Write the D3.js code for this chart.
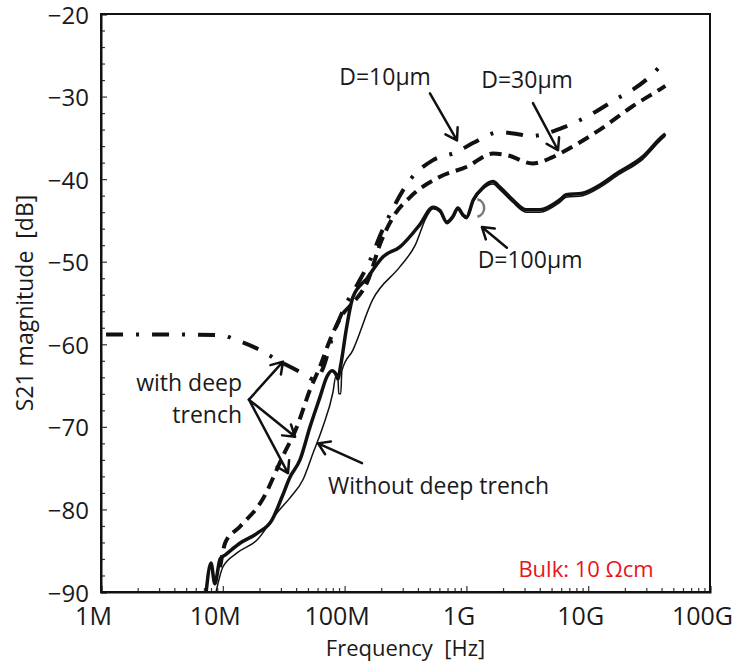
<!DOCTYPE html>
<html>
<head>
<meta charset="utf-8">
<script src="https://cdn.jsdelivr.net/npm/d3@7"></script>
<style>
  html, body { margin: 0; padding: 0; background: #fff; }
  svg { display: block; }
  text { font-family: "Open Sans", "Noto Sans", sans-serif; fill: #1a1a1a; }
</style>
</head>
<body>
<svg id="chart" width="735" height="664"></svg>
<script>
// ---- data: frequency (Hz) / S21 magnitude (dB) ----
const xTickValues = [1e6, 1e7, 1e8, 1e9, 1e10, 1e11];
const xTickLabels = ["1M", "10M", "100M", "1G", "10G", "100G"];
const yTickValues = [-90, -80, -70, -60, -50, -40, -30, -20];

// D=10 µm deep trench (dash-dot)
const d10Freq = [1.1e6, 3e6, 1e7, 1.2e7, 1.9e7, 2.8e7, 4.5e7, 5.7e7, 6.6e7, 8e7, 1e8, 1.3e8, 1.6e8, 2e8, 2.23e8, 3.44e8, 5.32e8, 8.37e8, 1.14e9, 1.89e9, 2.75e9, 3.3e9, 6.6e9, 1.1e10, 1.7e10, 2.3e10, 3.2e10, 4.3e10];
const d10Db   = [-58.8, -58.8, -58.9, -59.3, -60.5, -61.9, -63.5, -64.3, -63.0, -59.0, -55.5, -52.5, -50.0, -46.5, -45.0, -40.1, -37.7, -36.7, -35.6, -34.3, -34.6, -34.8, -33.6, -32.0, -30.3, -29.2, -27.6, -25.6];

// D=30 µm deep trench (dashed)
const d30Freq = [9.5e6, 1.05e7, 1.38e7, 2.1e7, 3.1e7, 4.06e7, 5.2e7, 6.28e7, 7.57e7, 9.7e7, 1.17e8, 1.53e8, 2e8, 2.5e8, 3.44e8, 6.07e8, 1.01e9, 1.65e9, 2.15e9, 3.5e9, 5e9, 6.2e9, 1.25e10, 2.3e10, 4e10, 4.3e10];
const d30Db   = [-87.0, -84.0, -82.1, -78.9, -73.6, -70.0, -65.5, -62.7, -59.5, -56.3, -55.0, -52.5, -47.5, -44.6, -42.2, -39.7, -38.5, -36.9, -37.1, -38.1, -37.4, -36.7, -34.0, -31.2, -29.0, -28.7];

// D=100 µm deep trench (thick solid)
const d100Freq = [7.3e6, 8e6, 8.6e6, 9.5e6, 1.05e7, 1.38e7, 1.91e7, 2.53e7, 3.06e7, 3.56e7, 4.3e7, 5.2e7, 6.28e7, 7.17e7, 7.86e7, 8.47e7, 8.8e7, 9.3e7, 1.04e8, 1.17e8, 1.53e8, 2.07e8, 2.85e8, 4.15e8, 5.32e8, 6.07e8, 6.9e8, 7.77e8, 8.5e8, 9.35e8, 1e9, 1.14e9, 1.37e9, 1.65e9, 1.89e9, 2.4e9, 3.1e9, 4e9, 5.85e9, 6.6e9, 9e9, 1.25e10, 1.72e10, 2.8e10, 4e10, 4.3e10];
const d100Db   = [-90.0, -86.5, -89.0, -86.0, -85.5, -84.1, -82.9, -81.3, -78.5, -76.1, -74.0, -70.0, -66.4, -63.9, -63.2, -63.6, -64.2, -62.5, -57.9, -54.3, -52.0, -49.4, -48.2, -45.5, -43.4, -43.8, -45.2, -44.5, -43.5, -44.3, -44.6, -42.5, -41.0, -40.3, -41.0, -42.5, -43.7, -43.7, -42.5, -41.9, -41.7, -40.7, -39.3, -37.3, -34.9, -34.5];

// Without deep trench (thin solid)
const noTrenchFreq = [8.8e6, 1e7, 1.3e7, 1.91e7, 2.79e7, 3.56e7, 4.55e7, 5.5e7, 6.63e7, 8e7, 8.5e7, 8.8e7, 8.95e7, 9.3e7, 9.5e7, 1.17e8, 1.7e8, 2.85e8, 3.8e8, 4.7e8, 5.32e8, 6.07e8, 6.9e8, 7.77e8, 8.5e8, 9.35e8, 1e9, 1.14e9, 1.37e9, 1.65e9, 1.89e9, 2.4e9, 3.1e9, 4e9, 5.85e9, 6.6e9, 9e9, 1.25e10, 1.72e10, 2.8e10, 4e10, 4.3e10];
const noTrenchDb   = [-90.0, -87.0, -85.3, -83.7, -80.4, -78.6, -76.4, -73.2, -70.0, -65.9, -63.8, -63.8, -66.0, -66.0, -63.2, -60.7, -54.6, -50.6, -48.0, -44.6, -43.6, -44.0, -45.4, -44.7, -43.7, -44.5, -44.8, -42.7, -41.2, -40.6, -41.3, -42.8, -44.0, -44.0, -42.8, -42.2, -42.0, -41.0, -39.6, -37.6, -35.2, -34.8];

const series = [
  { name: "D=10µm",  freq: d10Freq,      db: d10Db,      width: 4,   dash: "17,13,3,13" },
  { name: "D=30µm",  freq: d30Freq,      db: d30Db,      width: 4,   dash: "12,7" },
  { name: "without", freq: noTrenchFreq, db: noTrenchDb, width: 1.5, dash: null },
  { name: "D=100µm", freq: d100Freq,     db: d100Db,     width: 3.5, dash: null }
];

// ---- layout ----
const svg = d3.select("#chart");
const x = d3.scaleLog().domain([1e6, 1e11]).range([101, 710]);
const y = d3.scaleLinear().domain([-90, -20]).range([592, 14]);

const plot = svg.append("g");

// curves
const line = d3.line()
  .x(d => x(d[0]))
  .y(d => y(d[1]))
  .curve(d3.curveMonotoneX);

plot.selectAll("path.curve")
  .data(series)
  .join("path")
  .attr("class", "curve")
  .attr("fill", "none")
  .attr("stroke", "#111")
  .attr("stroke-width", s => s.width)
  .attr("stroke-linejoin", "round")
  .attr("stroke-dasharray", s => s.dash)
  .attr("d", s => line(s.freq.map((f, i) => [f, s.db[i]])));

// ---- axes ----
const minorX = [];
for (let dec = 1e6; dec < 1e11; dec *= 10) {
  for (let k = 2; k <= 9; k++) minorX.push(dec * k);
}
const minorY = d3.range(-88, -20, 2).filter(v => v % 10 !== 0);

const tickFont = "'Open Sans', sans-serif";

const xAxis = svg.append("g").attr("transform", `translate(0,${y(-90)})`);
xAxis.append("g").attr("class", "minor")
  .call(d3.axisBottom(x).tickValues(minorX).tickSize(-4).tickFormat(""))
  .call(g => g.select(".domain").remove())
  .call(g => g.selectAll("text").remove());
const xMajor = xAxis.append("g").attr("class", "major")
  .call(d3.axisBottom(x).tickValues(xTickValues).tickSize(-6)
    .tickFormat((d, i) => xTickLabels[i]).tickPadding(15));
xMajor.selectAll("text").attr("font-size", 25).attr("dx", -8)
  .attr("font-family", tickFont).style("fill", "#1a1a1a");

const yAxis = svg.append("g").attr("transform", `translate(${x(1e6)},0)`);
yAxis.append("g").attr("class", "minor")
  .call(d3.axisLeft(y).tickValues(minorY).tickSize(-4).tickFormat(""))
  .call(g => g.select(".domain").remove())
  .call(g => g.selectAll("text").remove());
const yMajor = yAxis.append("g").attr("class", "major")
  .call(d3.axisLeft(y).tickValues(yTickValues).tickSize(-6).tickPadding(12).tickFormat(d3.format("d")));
yMajor.selectAll("text").attr("font-size", 24).attr("dy", "0.38em")
  .attr("font-family", tickFont).style("fill", "#1a1a1a");

svg.selectAll(".domain").attr("stroke", "#111").attr("stroke-width", 2);
svg.selectAll(".tick line").attr("stroke", "#333").attr("stroke-width", 1.2);

// frame top/right
svg.append("rect")
  .attr("x", x(1e6)).attr("y", y(-20))
  .attr("width", x(1e11) - x(1e6)).attr("height", y(-90) - y(-20))
  .attr("fill", "none").attr("stroke", "#111").attr("stroke-width", 2);

// axis titles
svg.append("text")
  .attr("x", (x(1e6) + x(1e11)) / 2).attr("y", 656)
  .attr("text-anchor", "middle").attr("font-size", 22)
  .style("white-space", "pre")
  .text("Frequency  [Hz]");

svg.append("text")
  .attr("transform", `translate(33,${(y(-20) + y(-90)) / 2}) rotate(-90)`)
  .attr("text-anchor", "middle").attr("font-size", 23)
  .style("white-space", "pre")
  .text("S21 magnitude  [dB]");

// ---- annotations (anchored in data coordinates) ----
const labels = [
  { t: "D=10µm",  f: 2.15e8, db: -28.6, anchor: "middle" },
  { t: "D=30µm",  f: 3.15e9, db: -29.0, anchor: "middle" },
  { t: "D=100µm", f: 3.33e9, db: -50.8, anchor: "middle" },
  { t: "with deep", f: 1.44e7, db: -65.7, anchor: "end" },
  { t: "trench",  f: 1.44e7, db: -69.5, anchor: "end" },
  { t: "Without deep trench", f: 7.3e7, db: -78.1, anchor: "start" }
];
svg.selectAll("text.note")
  .data(labels)
  .join("text")
  .attr("class", "note")
  .attr("x", d => x(d.f)).attr("y", d => y(d.db))
  .attr("text-anchor", d => d.anchor)
  .attr("font-size", 23)
  .text(d => d.t);

svg.append("text")
  .attr("x", x(9.6e9)).attr("y", y(-87.3) + 7)
  .attr("text-anchor", "middle").attr("font-size", 22)
  .style("fill", "#e8141b")
  .text("Bulk: 10 Ωcm");

const arrows = [
  { from: [5.02e8, -29.6], to: [8.37e8, -35.3] },
  { from: [3.52e9, -30.8], to: [5.65e9, -36.5] },
  { from: [2.15e9, -48.3], to: [1.34e9, -45.8] },
  { from: [1.64e7, -66.7], to: [3.12e7, -62.1] },
  { from: [1.64e7, -66.7], to: [3.92e7, -71.2] },
  { from: [1.64e7, -66.7], to: [3.43e7, -75.6] },
  { from: [1.39e8, -74.4], to: [6.05e7, -72.0] }
];
const arrowG = svg.append("g").attr("stroke", "#111").attr("stroke-width", 2.5)
  .attr("fill", "none").attr("stroke-linecap", "round").attr("stroke-linejoin", "round");
arrows.forEach(a => {
  const x0 = x(a.from[0]), y0 = y(a.from[1]);
  const x1 = x(a.to[0]),   y1 = y(a.to[1]);
  const ang = Math.atan2(y1 - y0, x1 - x0);
  const h = 13, spread = Math.PI / 5.5;
  const p = d3.path();
  p.moveTo(x0, y0); p.lineTo(x1, y1);
  p.moveTo(x1 - h * Math.cos(ang - spread), y1 - h * Math.sin(ang - spread));
  p.lineTo(x1, y1);
  p.lineTo(x1 - h * Math.cos(ang + spread), y1 - h * Math.sin(ang + spread));
  arrowG.append("path").attr("d", p.toString());
});

// grey bracket marking the D=100µm curve
const cx = x(1.18e9), cy = y(-43.5);
svg.append("path")
  .attr("d", d3.arc()({ innerRadius: 9, outerRadius: 9, startAngle: 0.25, endAngle: Math.PI - 0.25 }))
  .attr("transform", `translate(${cx},${cy})`)
  .attr("fill", "none").attr("stroke", "#777").attr("stroke-width", 2.5);
</script>
</body>
</html>
